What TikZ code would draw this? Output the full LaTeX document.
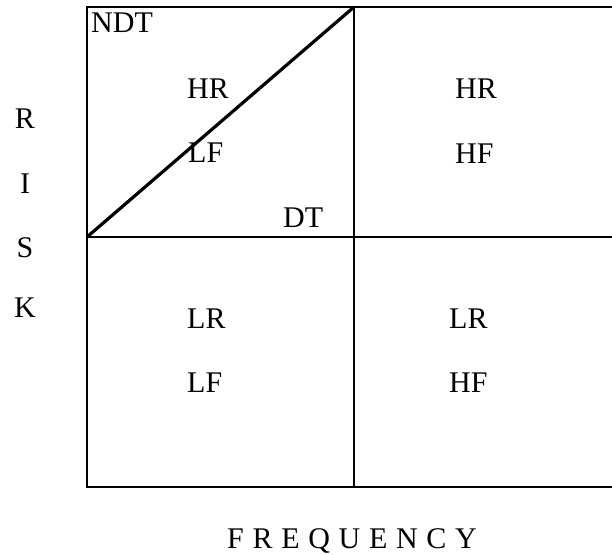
\documentclass[tikz,border=0pt]{standalone}
\usepackage{fontspec}
\setmainfont{Liberation Serif}
\begin{document}
\begin{tikzpicture}[x=1pt,y=-1pt,
  lbl/.style={font=\fontsize{30}{33}\selectfont, inner sep=0pt, anchor=base west},
  grid/.style={line width=2pt},
  diag/.style={line width=3.2pt}]
\useasboundingbox (0,0) rectangle (612,554);
% grid corners
\coordinate (tl) at (87,7);
\coordinate (tm) at (354,7);
\coordinate (tr) at (612,7);
\coordinate (ml) at (87,237);
\coordinate (mr) at (612,237);
\coordinate (bl) at (87,487);
\coordinate (bm) at (354,487);
\coordinate (br) at (612,487);
\draw[grid] (tr) -- (tl) -- (bl) -- (br);
\draw[grid] (ml) -- (mr);
\draw[grid] (tm) -- (bm);
\draw[diag] (ml) -- (tm);
% labels
\node[lbl] (ndt) at (91,32) {NDT};
\node[lbl] (hr1) at (187,98) {HR};
\node[lbl] (lf1) at (188,162) {LF};
\node[lbl] (dt) at (283,227) {DT};
\node[lbl] (hr2) at (455,98) {HR};
\node[lbl] (hf2) at (455,163) {HF};
\node[lbl] (lr3) at (187,328) {LR};
\node[lbl] (lf3) at (187,392) {LF};
\node[lbl] (lr4) at (449,328) {LR};
\node[lbl] (hf4) at (449,392) {HF};
% RISK
\node[lbl, anchor=base] (r) at (25,128) {R};
\node[lbl, anchor=base] (i) at (25,193) {I};
\node[lbl, anchor=base] (s) at (25,257) {S};
\node[lbl, anchor=base] (k) at (25,317) {K};
% FREQUENCY
\node[lbl, font=\fontsize{30}{33}\selectfont\addfontfeature{LetterSpace=29}] (freq) at (227,548) {FREQUENCY};
\end{tikzpicture}
\end{document}
